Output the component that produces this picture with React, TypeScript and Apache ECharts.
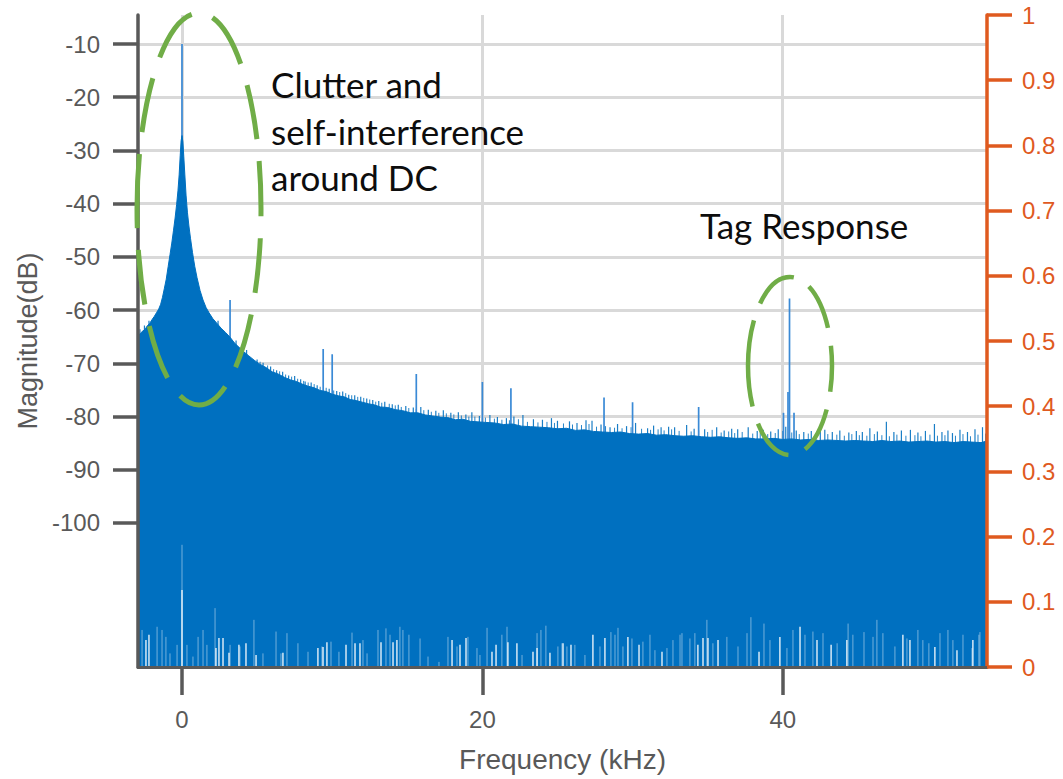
import { useEffect, useRef } from 'react';
import * as echarts from 'echarts';

// ---------- axis ranges / ticks ----------
const X_MIN = -2.93;
const X_MAX = 53.6;
const DB_MIN = -127.06;
const DB_MAX = -4.55;
const xTicks = [0, 20, 40];
const dbTicks = [-100, -90, -80, -70, -60, -50, -40, -30, -20, -10];

// ---------- data (kHz, dB) ----------
const envelope: [number, number][] = [
  [-2.93, -64.9], [-2.75, -64.3], [-2.6, -63.9], [-2.45, -63.6], [-2.3, -62.9], [-2.15, -62.5],
  [-2.0, -61.8], [-1.85, -61.2], [-1.7, -60.5], [-1.55, -59.8], [-1.42, -58.9], [-1.3, -57.6],
  [-1.18, -56.0], [-1.05, -54.2], [-0.92, -51.8], [-0.8, -49.6], [-0.68, -47.4], [-0.57, -45.1],
  [-0.46, -42.7], [-0.36, -40.2], [-0.27, -37.6], [-0.19, -34.6], [-0.12, -31.0], [-0.06, -28.2],
  [0, -27.2], [0.06, -28.4], [0.12, -31.2], [0.19, -34.6], [0.27, -38.4], [0.36, -41.6],
  [0.46, -44.2], [0.57, -46.6], [0.7, -49.2], [0.85, -51.8], [1.0, -53.9], [1.2, -56.3],
  [1.4, -58.1], [1.6, -59.5], [1.8, -60.5], [2.05, -61.6], [2.3, -62.4], [2.6, -63.4],
  [2.9, -64.2], [3.2, -65.1], [3.5, -66.2], [3.8, -67.0], [4.1, -67.8], [4.45, -68.6],
  [4.8, -69.4], [5.2, -70.2], [5.6, -70.8], [6.0, -71.6], [6.4, -72.0], [6.8, -72.6],
  [7.2, -73.1], [7.6, -73.4], [8.0, -73.9], [8.4, -74.3], [8.8, -74.6], [9.2, -75.1],
  [9.6, -75.3], [10.0, -75.8], [10.4, -76.1], [10.8, -76.3], [11.2, -76.8], [11.6, -77.0],
  [12.0, -77.3], [12.4, -77.6], [12.8, -77.8], [13.2, -78.2], [13.7, -78.3], [14.2, -78.7],
  [14.7, -78.9], [15.2, -79.3], [15.7, -79.3], [16.2, -79.7], [16.7, -79.9], [17.2, -80.1],
  [17.7, -80.2], [18.2, -80.6], [18.7, -80.5], [19.2, -80.9], [19.7, -81.0], [20.2, -81.1],
  [20.8, -81.2], [21.4, -81.5], [22.0, -81.4], [22.6, -81.8], [23.2, -81.9], [23.8, -82.0],
  [24.4, -82.1], [25.0, -82.3], [25.6, -82.2], [26.2, -82.6], [26.8, -82.5], [27.4, -82.8],
  [28.0, -82.9], [28.6, -83.0], [29.2, -82.9], [29.8, -83.2], [30.4, -83.3], [31.0, -83.2],
  [31.6, -83.5], [32.2, -83.4], [32.8, -83.6], [33.4, -83.7], [34.0, -83.6], [34.6, -83.8],
  [35.2, -83.9], [35.8, -83.8], [36.4, -84.0], [37.0, -84.1], [37.6, -84.0], [38.2, -84.2],
  [38.8, -84.2], [39.4, -84.1], [40.0, -84.3], [40.6, -84.2], [41.2, -84.4], [41.8, -84.3],
  [42.4, -84.5], [43.0, -84.4], [43.6, -84.5], [44.2, -84.6], [44.8, -84.5], [45.4, -84.6],
  [46.0, -84.7], [46.6, -84.5], [47.2, -84.7], [47.8, -84.6], [48.4, -84.8], [49.0, -84.7],
  [49.6, -84.6], [50.2, -84.8], [50.8, -84.7], [51.4, -84.9], [52.0, -84.7], [52.6, -84.8],
  [53.2, -84.9], [53.6, -84.6],
];

const noisePeaks: [number, number][] = [
  [-2.8, -63.6], [-2.5, -62.9], [-2.2, -62.0],
  [2.4, -62.0], [3.6, -65.7], [4.3, -67.5], [5.0, -69.3], [5.4, -69.9], [5.9, -70.6], [6.3, -71.3],
  [6.7, -71.6], [7.1, -72.3], [7.5, -72.4], [7.9, -73.0], [8.2, -73.4], [8.6, -73.6], [9.0, -74.1],
  [9.8, -74.8], [10.3, -75.2], [10.7, -75.3], [11.1, -75.9], [11.5, -76.0], [11.9, -76.3],
  [12.3, -76.6], [12.7, -76.9], [13.1, -77.1], [13.5, -77.2], [14.0, -77.7], [14.4, -77.8],
  [14.9, -78.0], [15.4, -78.3], [15.9, -78.2], [16.4, -78.7], [16.9, -78.9], [17.4, -78.8],
  [17.9, -79.3], [18.4, -79.2], [18.9, -79.6], [19.3, -79.2], [19.8, -79.9], [20.5, -79.7],
  [21.0, -80.1], [21.6, -80.3], [22.1, -80.0], [22.7, -79.7], [23.4, -80.5], [24.0, -80.6],
  [24.6, -80.3], [25.0, -80.8], [25.8, -80.9], [26.3, -81.2], [26.9, -80.7], [27.3, -80.8],
  [27.9, -81.5], [28.5, -82.0], [29.0, -81.4], [29.6, -81.8], [30.2, -81.2], [31.0, -82.2],
  [31.4, -81.7], [31.9, -82.0], [32.4, -81.9], [32.8, -82.0], [33.6, -81.6], [34.1, -82.3],
  [34.8, -82.4], [35.6, -82.0], [36.1, -82.6], [36.6, -82.3], [37.0, -82.4], [37.7, -82.0],
  [38.3, -82.7], [38.7, -82.5], [39.2, -82.8], [39.7, -82.4], [40.2, -81.9], [40.9, -82.6],
  [41.4, -82.9], [41.9, -82.7], [42.5, -82.2], [42.8, -82.5], [43.3, -82.9], [43.8, -82.6],
  [44.4, -83.0], [44.9, -82.7], [45.3, -82.9], [45.8, -82.2], [46.3, -82.8], [46.9, -81.0],
  [47.4, -82.9], [47.9, -82.6], [48.5, -82.5], [49.0, -83.0], [49.5, -82.7], [50.1, -81.4],
  [50.6, -82.9], [51.0, -82.6], [51.3, -83.1], [51.8, -82.5], [52.3, -82.9], [52.8, -82.4],
  [53.3, -82.0],
];

const noiseFuzz: [number, number][] = [
  [5.2, -69.7], [5.7, -70.4], [6.1, -71.1], [6.5, -71.5], [6.9, -72.1], [7.3, -72.5], [7.7, -72.9],
  [8.1, -73.3], [8.4, -73.6], [8.8, -73.9], [9.2, -74.4], [9.6, -74.6], [10.1, -75.1], [10.5, -75.4],
  [10.9, -75.6], [11.3, -76.0], [11.7, -76.3], [12.1, -76.5], [12.5, -76.8], [12.9, -77.2],
  [13.3, -77.4], [13.8, -77.6], [14.2, -77.9], [14.6, -78.2], [15.1, -78.4], [15.6, -78.6],
  [16.1, -78.8], [16.6, -79.1], [17.1, -79.3], [17.6, -79.4], [18.1, -79.6], [18.6, -79.8],
  [19.1, -80.0], [19.5, -80.0], [20.2, -80.2], [20.8, -80.4], [21.3, -80.6], [21.8, -80.7],
  [22.4, -80.5], [23.0, -81.0], [23.7, -81.1], [24.3, -81.0], [24.8, -81.2], [25.4, -81.3],
  [26.0, -81.5], [26.6, -81.6], [27.1, -81.4], [27.6, -81.9], [28.2, -81.8], [28.8, -82.1],
  [29.3, -82.2], [29.9, -82.0], [30.6, -82.3], [31.2, -82.5], [31.7, -82.4], [32.1, -82.6],
  [32.6, -82.4], [33.1, -82.7], [33.9, -82.8], [34.4, -82.6], [35.0, -82.9], [35.3, -82.5],
  [35.9, -83.0], [36.4, -82.8], [36.8, -83.1], [37.3, -82.9], [38.0, -83.2], [38.5, -83.0],
  [39.0, -83.3], [39.5, -83.1], [40.0, -82.7], [40.6, -83.0], [41.1, -83.3], [41.7, -83.2],
  [42.2, -83.4], [43.0, -83.3], [43.6, -83.4], [44.1, -83.6], [44.6, -83.3], [45.1, -83.5],
  [45.6, -83.6], [46.1, -83.3], [46.6, -83.5], [47.1, -83.7], [47.6, -83.4], [48.2, -83.6],
  [48.8, -83.5], [49.2, -83.7], [49.8, -83.4], [50.3, -83.6], [50.8, -83.5], [51.5, -83.6],
  [52.0, -83.3], [52.5, -83.7], [53.0, -83.4], [53.5, -83.2],
];

const tones: [number, number][] = [
  [0, -10.0], [3.2, -58.1], [9.4, -67.3], [10.0, -68.3], [15.6, -72.0], [20.0, -73.5],
  [21.9, -74.7], [28.1, -76.4], [30.0, -77.3], [34.4, -78.2], [40.05, -79.3], [40.35, -75.4],
  [40.45, -57.8], [40.75, -79.3],
];

const floorGaps: [number, number][] = [
  [-2.4, -122.0], [-2.2, -121.0], [0, -112.6], [2.26, -123.5], [2.46, -121.6], [2.73, -121.6],
  [3.13, -124.4], [3.79, -122.9], [4.26, -122.6], [4.93, -124.8], [6.72, -124.4], [9.05, -123.5],
  [9.39, -123.3], [9.65, -122.4], [10.92, -122.9], [11.52, -122.6], [11.85, -122.6], [13.25, -122.4],
  [14.05, -122.4], [14.31, -122.0], [17.98, -122.0], [18.51, -122.9], [18.91, -121.6], [20.64, -124.2],
  [20.91, -122.9], [21.7, -122.4], [22.3, -122.6], [23.37, -124.2], [23.64, -123.5], [24.5, -124.4],
  [25.37, -122.6], [25.9, -122.9], [27.36, -121.0], [28.16, -121.6], [29.69, -121.4], [30.43, -122.9],
  [31.96, -124.2], [34.35, -122.9], [34.69, -121.6], [35.02, -121.6], [35.69, -122.0], [38.42, -124.2],
  [39.81, -121.4], [41.15, -119.5], [42.28, -122.0], [43.22, -122.9], [44.27, -122.0], [48.0, -121.0],
  [48.47, -122.0], [50.13, -123.3], [51.6, -123.9], [52.66, -122.0],
];

const floorGapsFaint: [number, number][] = [
  [-2.66, -120.1], [-1.66, -119.5], [-1.33, -120.1], [-1.07, -121.4], [-0.8, -124.5], [-0.33, -122.9],
  [0, -104.1], [0.33, -122.9], [0.73, -125.1], [1.07, -121.4], [1.4, -120.1], [1.66, -122.9],
  [2.2, -116.0], [3.2, -122.9], [3.86, -123.2], [4.79, -118.2], [5.39, -124.5], [6.26, -120.4],
  [6.59, -124.5], [6.99, -120.7], [7.72, -122.6], [8.39, -124.2], [9.32, -123.2], [9.92, -122.3],
  [10.45, -124.2], [11.32, -120.6], [12.05, -122.0], [12.32, -124.5], [13.05, -120.1], [13.58, -119.8],
  [13.85, -121.0], [14.51, -119.5], [14.71, -120.1], [15.11, -121.0], [15.85, -121.7], [16.38, -125.1],
  [17.11, -126.1], [17.71, -121.4], [18.31, -123.2], [19.04, -121.4], [19.64, -123.5], [19.84, -124.8],
  [20.31, -119.7], [21.3, -121.0], [21.64, -119.5], [22.64, -124.8], [23.64, -120.7], [23.9, -120.1],
  [24.23, -119.3], [25.03, -123.2], [25.3, -122.6], [25.63, -123.2], [26.16, -122.9], [26.83, -124.8],
  [27.83, -123.2], [28.56, -120.5], [28.83, -121.0], [29.03, -119.7], [29.36, -123.2], [29.96, -121.7],
  [30.69, -122.3], [31.16, -121.0], [31.49, -123.9], [32.29, -123.5], [32.69, -122.0], [33.16, -121.0],
  [33.29, -120.7], [33.82, -121.7], [34.15, -120.7], [34.95, -118.2], [35.35, -122.6], [36.28, -121.4],
  [37.02, -123.2], [37.62, -120.7], [37.88, -117.7], [38.75, -118.9], [39.15, -122.0], [40.28, -123.5],
  [40.68, -120.1], [41.48, -121.0], [42.01, -120.4], [42.68, -120.7], [43.62, -122.6], [44.35, -118.9],
  [44.67, -121.0], [45.41, -120.5], [46.01, -121.4], [46.27, -118.2], [46.67, -120.7], [47.47, -123.2],
  [48.27, -121.7], [49.0, -120.1], [49.33, -122.0], [49.73, -122.6], [50.47, -120.7], [51.0, -120.1],
  [51.33, -122.0], [52.0, -121.0], [52.6, -123.5], [53.06, -121.0], [53.13, -120.5],
];

// ---------- styles ----------
const AXIS_GRAY = '#595959';
const ORANGE = '#DF5A1F';
const BLUE = '#0070C0';
const GREEN = '#70AD47';
const GRID_GRAY = '#D9D9D9';

function vLines(color: string, width: number, opacity: number) {
  return (_params: any, api: any) => {
    const x = api.value(0);
    const v = api.value(1);
    const top = api.coord([x, v]);
    const bot = api.coord([x, DB_MIN]);
    return {
      type: 'line',
      silent: true,
      shape: { x1: bot[0], y1: bot[1], x2: top[0], y2: top[1] },
      style: { stroke: color, lineWidth: width, opacity },
    };
  };
}

function textEl(text: string, x: number, y: number) {
  return {
    type: 'text',
    x,
    y,
    z: 100,
    silent: true,
    style: {
      text,
      fontSize: 35,
      fontFamily: 'Lato',
      fill: '#0d0d0d',
      align: 'left',
      verticalAlign: 'middle',
      textAlign: 'left',
      textVerticalAlign: 'middle',
    },
  };
}

export default function App() {
  const ref = useRef<HTMLDivElement>(null);

  useEffect(() => {
    const chart = echarts.init(ref.current!, null, { renderer: 'svg' });
    const option: any = {
      animation: false,
      backgroundColor: '#ffffff',
      grid: { left: 138, right: 76, top: 15, bottom: 112, outerBoundsMode: 'none', containLabel: false },
      xAxis: {
        type: 'value',
        min: X_MIN,
        max: X_MAX,
        z: 10,
        axisLine: { show: true, onZero: false, lineStyle: { color: AXIS_GRAY, width: 3 } },
        axisTick: { show: true, length: 28, customValues: xTicks, lineStyle: { color: AXIS_GRAY, width: 3.5 } },
        axisLabel: { customValues: xTicks, margin: 40, fontSize: 24, color: AXIS_GRAY, fontFamily: 'Liberation Sans' },
        splitLine: { show: false },
        name: 'Frequency (kHz)',
        nameLocation: 'middle',
        nameGap: 78,
        nameTextStyle: { fontSize: 28, color: AXIS_GRAY, fontFamily: 'Liberation Sans' },
      },
      yAxis: [
        {
          type: 'value',
          position: 'left',
          min: DB_MIN,
          max: DB_MAX,
          z: 10,
          axisLine: { show: true, onZero: false, lineStyle: { color: AXIS_GRAY, width: 3.5 } },
          axisTick: { show: true, length: 25, customValues: dbTicks, lineStyle: { color: AXIS_GRAY, width: 3.5 } },
          axisLabel: { customValues: dbTicks, margin: 38, fontSize: 24, color: AXIS_GRAY, fontFamily: 'Liberation Sans' },
          splitLine: { show: false },
          name: 'Magnitude(dB)',
          nameLocation: 'middle',
          nameGap: 94,
          nameTextStyle: { fontSize: 27, color: AXIS_GRAY, fontFamily: 'Liberation Sans' },
        },
        {
          type: 'value',
          position: 'right',
          min: 0,
          max: 1,
          interval: 0.1,
          z: 10,
          axisLine: { show: true, onZero: false, lineStyle: { color: ORANGE, width: 3.5 } },
          axisTick: { show: true, length: 25, lineStyle: { color: ORANGE, width: 3.5 } },
          axisLabel: { margin: 35, fontSize: 24, color: ORANGE, fontFamily: 'Liberation Sans' },
          splitLine: { show: false },
        },
      ],
      series: [
        {
          type: 'line',
          data: [],
          z: 1,
          silent: true,
          markLine: {
            z: 1,
            silent: true,
            symbol: ['none', 'none'],
            label: { show: false },
            lineStyle: { color: GRID_GRAY, width: 3, type: 'solid' },
            emphasis: { disabled: true },
            data: [
              ...dbTicks.map((v) => ({ yAxis: v })),
              ...xTicks.map((v) => ({ xAxis: v })),
            ],
          },
        },
        {
          type: 'custom',
          z: 2,
          silent: true,
          data: noiseFuzz,
          renderItem: vLines(BLUE, 1, 0.85),
        },
        {
          type: 'custom',
          z: 2,
          silent: true,
          data: noisePeaks,
          renderItem: vLines(BLUE, 1.2, 0.9),
        },
        {
          type: 'custom',
          z: 2,
          silent: true,
          data: tones,
          renderItem: vLines('#3A8AD6', 1.7, 1),
        },
        {
          type: 'line',
          z: 3,
          data: envelope,
          showSymbol: false,
          silent: true,
          lineStyle: { color: BLUE, width: 1 },
          areaStyle: { color: BLUE, opacity: 1, origin: 'start' },
        },
        {
          type: 'custom',
          z: 4,
          silent: true,
          data: floorGapsFaint,
          renderItem: vLines('#ffffff', 1, 0.45),
        },
        {
          type: 'custom',
          z: 4,
          silent: true,
          data: floorGaps,
          renderItem: vLines('#ffffff', 1.4, 0.9),
        },
      ],
      graphic: [
        {
          type: 'ellipse',
          z: 100,
          silent: true,
          shape: { cx: 199, cy: 209, rx: 62, ry: 196 },
          style: { fill: 'none', stroke: GREEN, lineWidth: 5, lineDash: [55, 22] },
        },
        {
          type: 'ellipse',
          z: 100,
          silent: true,
          shape: { cx: 790, cy: 366, rx: 42, ry: 89 },
          style: { fill: 'none', stroke: GREEN, lineWidth: 4.5, lineDash: [46, 18] },
        },
        textEl('Clutter and', 271, 84),
        textEl('self-interference', 271, 131),
        textEl('around DC', 271, 177),
        textEl('Tag Response', 700, 225),
      ],
    };
    chart.setOption(option);
    return () => chart.dispose();
  }, []);

  return (
    <div
      ref={ref}
      style={{ position: 'absolute', left: 0, top: 0, width: 1063, height: 779, background: '#fff' }}
    />
  );
}
